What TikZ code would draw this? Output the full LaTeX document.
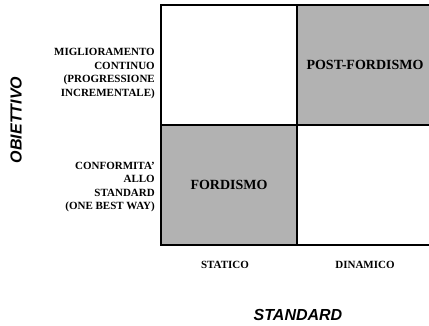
\documentclass[tikz,border=0pt]{standalone}
\usepackage{fontspec}
\setmainfont{Liberation Serif}
\setsansfont{Liberation Sans}
\usetikzlibrary{positioning}
\definecolor{cellgrey}{gray}{0.7}

\begin{document}
\begin{tikzpicture}[x=1pt, y=1pt
    , cell/.style={draw, line width=1.2pt, minimum width=136pt, minimum height=120pt,
        inner sep=0pt, outer sep=0pt, font=\fontsize{14}{16}\selectfont\bfseries}
    , shaded/.style={cell, fill=cellgrey}
    , rowlabel/.style={align=right, inner sep=0pt, font=\fontsize{11}{13.5}\selectfont\bfseries}
    , collabel/.style={font=\fontsize{11}{13}\selectfont\bfseries}
    , axislabel/.style={font=\fontsize{16}{18}\selectfont\sffamily\bfseries\itshape}
    ]
    \useasboundingbox (0,0) rectangle (429,326);
    \node[shaded] (fordismo) at (229,141) {FORDISMO};
    \node[cell, above=0pt of fordismo] (staticodin) {};
    \node[cell, right=0pt of fordismo] (dinconf) {};
    \node[shaded, right=0pt of staticodin] (postford) {POST-FORDISMO};

    \node[rowlabel, left=6pt of staticodin.west, yshift=-8.5pt] (miglior)
      {MIGLIORAMENTO\\CONTINUO\\(PROGRESSIONE\\INCREMENTALE)};
    \node[rowlabel, left=6pt of fordismo.west, yshift=-2pt] (conform)
      {CONFORMITA'\\ALLO~\\STANDARD\\(ONE BEST WAY)};

    \node[collabel] (statico) at (225,61) {STATICO};
    \node[collabel] (dinamico) at (365,61) {DINAMICO};

    \node[axislabel] (standard) at (298,11) {STANDARD};
    \node[axislabel, rotate=90] (obiettivo) at (16,206) {OBIETTIVO};
  \end{tikzpicture}
\end{document}
